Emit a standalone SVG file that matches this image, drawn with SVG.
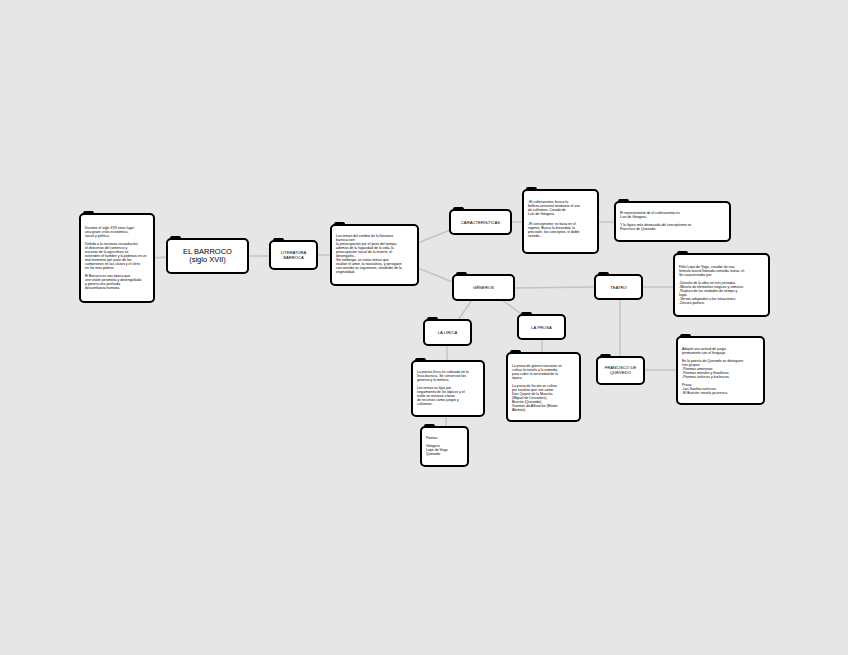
<svg xmlns="http://www.w3.org/2000/svg" width="848" height="655" viewBox="0 0 848 655">
<defs>
<style>
.bg{fill:#e6e6e6}
.box{fill:#ffffff;stroke:#000000;stroke-width:2}
.tab{fill:#000000}
.edge{stroke:#c4c4c4;stroke-width:1.5;fill:none}
text{font-family:"Liberation Sans",Arial,sans-serif;fill:#000000}
.t{font-size:3.5px}
.lbl{font-size:4.2px}
.title{font-size:7.5px}
</style>
</defs>
<rect class="bg" x="0" y="0" width="848" height="655"/>
<g id="connectors">
<line class="edge" x1="154" y1="258" x2="167" y2="257"/>
<line class="edge" x1="248" y1="256" x2="270" y2="256"/>
<line class="edge" x1="317" y1="255" x2="331" y2="255"/>
<line class="edge" x1="418" y1="243" x2="450" y2="230"/>
<line class="edge" x1="418" y1="268" x2="455" y2="283"/>
<line class="edge" x1="511" y1="222" x2="523" y2="222"/>
<line class="edge" x1="598" y1="222" x2="615" y2="222"/>
<line class="edge" x1="514" y1="288" x2="595" y2="287"/>
<line class="edge" x1="642" y1="287" x2="674" y2="287"/>
<line class="edge" x1="620" y1="299" x2="620" y2="356"/>
<line class="edge" x1="644" y1="370" x2="677" y2="370"/>
<line class="edge" x1="472" y1="300" x2="458" y2="320"/>
<line class="edge" x1="502" y1="300" x2="523" y2="315"/>
<line class="edge" x1="447" y1="345" x2="447" y2="360"/>
<line class="edge" x1="446" y1="416" x2="446" y2="427"/>
<line class="edge" x1="542" y1="339" x2="542" y2="353"/>
</g>
<g id="n-intro">
<rect class="box" x="80" y="214" width="74" height="88" rx="4"/>
<rect class="tab" x="83" y="211" width="11" height="4" rx="2"/>
<text class="t" x="85"><tspan x="85" y="229">Durante el siglo XVII tiene lugar</tspan><tspan x="85" y="233">una grave crisis económica,</tspan><tspan x="85" y="237">social y política.</tspan><tspan x="85" y="245">Debido a la excesiva recaudación,</tspan><tspan x="85" y="249">el descenso del comercio y</tspan><tspan x="85" y="253">escasez de la agricultura se</tspan><tspan x="85" y="257">extienden el hambre y la pobreza en un</tspan><tspan x="85" y="261">mal momento por parte de los</tspan><tspan x="85" y="265">campesinos en las clases y el clero</tspan><tspan x="85" y="269">en los más pobres.</tspan><tspan x="85" y="277">El Barroco es una época que</tspan><tspan x="85" y="281">une visión pesimista y desengañada</tspan><tspan x="85" y="285">y genera una profunda</tspan><tspan x="85" y="289">desconfianza humana.</tspan></text>
</g>
<g id="n-barroco">
<rect class="box" x="167" y="239" width="81" height="34" rx="4"/>
<rect class="tab" x="170" y="236" width="11" height="4" rx="2"/>
<text class="title" x="207.5" y="254" text-anchor="middle">EL BARROCO</text>
<text class="title" x="207.5" y="262" text-anchor="middle">(siglo XVII)</text>
</g>
<g id="n-literatura">
<rect class="box" x="270" y="241" width="47" height="28" rx="4"/>
<rect class="tab" x="273" y="238" width="11" height="4" rx="2"/>
<text class="lbl" x="293.5" y="254" text-anchor="middle">LITERATURA</text>
<text class="lbl" x="293.5" y="259" text-anchor="middle">BARROCA</text>
</g>
<g id="n-temas">
<rect class="box" x="331" y="225" width="87" height="60" rx="4"/>
<rect class="tab" x="334" y="222" width="11" height="4" rx="2"/>
<text class="t"><tspan x="336" y="237">Los temas del cambio de la literatura</tspan><tspan x="336" y="241">barroca son:</tspan><tspan x="336" y="245">la preocupación por el paso del tiempo,</tspan><tspan x="336" y="249">además de la fugacidad de la vida, la</tspan><tspan x="336" y="253">preocupación social de la muerte, el</tspan><tspan x="336" y="257">desengaño...</tspan><tspan x="336" y="261">Sin embargo, se tratan temas que</tspan><tspan x="336" y="265">exaltan el amor, la naturaleza, y persiguen</tspan><tspan x="336" y="269">con sentido un argumento, alrededor de la</tspan><tspan x="336" y="273">originalidad.</tspan></text>
</g>
<g id="n-caracteristicas">
<rect class="box" x="450" y="210" width="61" height="24" rx="4"/>
<rect class="tab" x="453" y="207" width="11" height="4" rx="2"/>
<text class="lbl" x="480.5" y="223.5" text-anchor="middle">CARACTERÍSTICAS</text>
</g>
<g id="n-corrientes">
<rect class="box" x="523" y="190" width="75" height="63" rx="4"/>
<rect class="tab" x="526" y="187" width="11" height="4" rx="2"/>
<text class="t"><tspan x="528" y="203">-El culteranismo: busca la</tspan><tspan x="528" y="207">belleza sensorial mediante el uso</tspan><tspan x="528" y="211">de cultismos. Creado de</tspan><tspan x="528" y="215">Luis de Góngora.</tspan><tspan x="528" y="225">-El conceptismo: se basa en el</tspan><tspan x="528" y="229">ingenio. Busca la brevedad, la</tspan><tspan x="528" y="233">precisión, los conceptos, el doble</tspan><tspan x="528" y="237">sentido...</tspan></text>
</g>
<g id="n-representantes">
<rect class="box" x="615" y="202" width="115" height="39" rx="4"/>
<rect class="tab" x="618" y="199" width="11" height="4" rx="2"/>
<text class="t"><tspan x="620" y="214">El representante de el culteranismo es</tspan><tspan x="620" y="218">Luis de Góngora.</tspan><tspan x="620" y="226">Y la figura más destacada del conceptismo es</tspan><tspan x="620" y="230">Francisco de Quevedo.</tspan></text>
</g>
<g id="n-generos">
<rect class="box" x="453" y="275" width="61" height="25" rx="4"/>
<rect class="tab" x="456" y="272" width="11" height="4" rx="2"/>
<text class="lbl" x="483.5" y="289" text-anchor="middle">GÉNEROS</text>
</g>
<g id="n-teatro">
<rect class="box" x="595" y="275" width="47" height="24" rx="4"/>
<rect class="tab" x="598" y="272" width="11" height="4" rx="2"/>
<text class="lbl" x="618.5" y="288.5" text-anchor="middle">TEATRO</text>
</g>
<g id="n-teatro-texto">
<rect class="box" x="674" y="254" width="95" height="62" rx="4"/>
<rect class="tab" x="677" y="251" width="11" height="4" rx="2"/>
<text class="t"><tspan x="679" y="268">Félix Lope de Vega, creador de una</tspan><tspan x="679" y="272">fórmula teatral llamada comedia nueva, el.</tspan><tspan x="679" y="276">Se caracterizaba por:</tspan><tspan x="679" y="284">-División de la obra en tres jornadas.</tspan><tspan x="679" y="288">-Mezcla de elementos trágicos y cómicos.</tspan><tspan x="679" y="292">-Ruptura de las unidades de tiempo y</tspan><tspan x="679" y="296">lugar.</tspan><tspan x="679" y="300">-Versos adaptados a las situaciones.</tspan><tspan x="679" y="304">-Decoro poético.</tspan></text>
</g>
<g id="n-quevedo">
<rect class="box" x="597" y="357" width="47" height="27" rx="4"/>
<rect class="tab" x="600" y="354" width="11" height="4" rx="2"/>
<text class="lbl" x="620.5" y="369" text-anchor="middle">FRANCISCO DE</text>
<text class="lbl" x="620.5" y="374" text-anchor="middle">QUEVEDO</text>
</g>
<g id="n-quevedo-texto">
<rect class="box" x="677" y="337" width="87" height="67" rx="4"/>
<rect class="tab" x="680" y="334" width="11" height="4" rx="2"/>
<text class="t"><tspan x="682" y="350">Adoptó una actitud de juego</tspan><tspan x="682" y="354">permanente con el lenguaje.</tspan><tspan x="682" y="362">En la poesía de Quevedo se distinguen</tspan><tspan x="682" y="366">tres grupos:</tspan><tspan x="682" y="370">-Poemas amorosos.</tspan><tspan x="682" y="374">-Poemas morales y filosóficos.</tspan><tspan x="682" y="378">-Poemas satíricos y burlescos.</tspan><tspan x="682" y="386">Prosa:</tspan><tspan x="682" y="390">-Los Sueños satíricos.</tspan><tspan x="682" y="394">-El Buscón: novela picaresca.</tspan></text>
</g>
<g id="n-lirica">
<rect class="box" x="424" y="320" width="47" height="25" rx="4"/>
<rect class="tab" x="427" y="317" width="11" height="4" rx="2"/>
<text class="lbl" x="447.5" y="334" text-anchor="middle">LA LÍRICA</text>
</g>
<g id="n-prosa">
<rect class="box" x="518" y="315" width="47" height="24" rx="4"/>
<rect class="tab" x="521" y="312" width="11" height="4" rx="2"/>
<text class="lbl" x="541.5" y="328.5" text-anchor="middle">LA PROSA</text>
</g>
<g id="n-lirica-texto">
<rect class="box" x="412" y="361" width="72" height="55" rx="4"/>
<rect class="tab" x="415" y="358" width="11" height="4" rx="2"/>
<text class="t"><tspan x="417" y="373">La poesía lírica es cultivada en la</tspan><tspan x="417" y="377">lírica barroca. Se conservan los</tspan><tspan x="417" y="381">géneros y la métrica.</tspan><tspan x="417" y="389">Los temas se fijan por</tspan><tspan x="417" y="393">seguimiento de los tópicos y el</tspan><tspan x="417" y="397">estilo se renueva a base</tspan><tspan x="417" y="401">de recursos como juegos y</tspan><tspan x="417" y="405">cultismos.</tspan></text>
</g>
<g id="n-poetas">
<rect class="box" x="421" y="427" width="47" height="39" rx="4"/>
<rect class="tab" x="424" y="424" width="11" height="4" rx="2"/>
<text class="t"><tspan x="426" y="439">Poetas:</tspan><tspan x="426" y="447">Góngora</tspan><tspan x="426" y="451">Lope de Vega</tspan><tspan x="426" y="455">Quevedo</tspan></text>
</g>
<g id="n-prosa-texto">
<rect class="box" x="507" y="353" width="73" height="68" rx="4"/>
<rect class="tab" x="510" y="350" width="11" height="4" rx="2"/>
<text class="t"><tspan x="512" y="367">La prosa de género narrativo se</tspan><tspan x="512" y="371">cultiva la novela y la comedia</tspan><tspan x="512" y="375">para cubrir la necesidad de la</tspan><tspan x="512" y="379">época.</tspan><tspan x="512" y="387">La prosa de ficción se cultiva</tspan><tspan x="512" y="391">por novelas que son como:</tspan><tspan x="512" y="395">Don Quijote de la Mancha</tspan><tspan x="512" y="399">(Miguel de Cervantes),</tspan><tspan x="512" y="403">Buscón (Quevedo),</tspan><tspan x="512" y="407">Guzmán de Alfarache (Mateo</tspan><tspan x="512" y="411">Alemán).</tspan></text>
</g>
</svg>
